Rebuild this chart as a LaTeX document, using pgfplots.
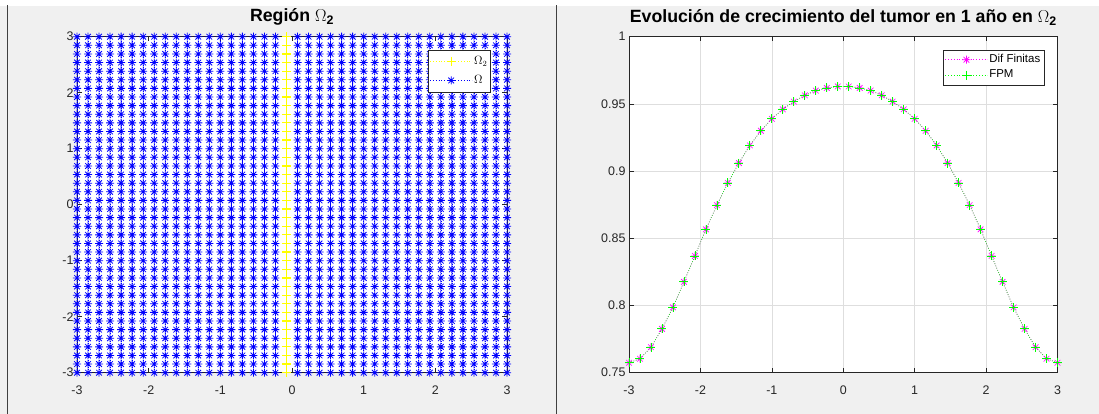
\documentclass[border=0pt]{standalone}
\usepackage{pgfplots}
\pgfplotsset{compat=1.18}
\usepackage{pgfplotstable}
\usepackage{fontspec}
\setmainfont{Liberation Sans}
\definecolor{figbg}{RGB}{240,240,240}
\definecolor{axcol}{RGB}{38,38,38}
\definecolor{gridcol}{RGB}{222,222,222}
\definecolor{mblue}{RGB}{0,0,255}
\definecolor{myellow}{RGB}{255,255,0}
\definecolor{mmag}{RGB}{255,0,255}
\definecolor{mgreen}{RGB}{0,255,0}

\pgfdeclareplotmark{mstar}{%
  \pgfpathmoveto{\pgfqpoint{-\pgfplotmarksize}{0pt}}\pgfpathlineto{\pgfqpoint{\pgfplotmarksize}{0pt}}%
  \pgfpathmoveto{\pgfqpoint{0pt}{-\pgfplotmarksize}}\pgfpathlineto{\pgfqpoint{0pt}{\pgfplotmarksize}}%
  \pgfpathmoveto{\pgfqpoint{-.707\pgfplotmarksize}{-.707\pgfplotmarksize}}\pgfpathlineto{\pgfqpoint{.707\pgfplotmarksize}{.707\pgfplotmarksize}}%
  \pgfpathmoveto{\pgfqpoint{-.707\pgfplotmarksize}{.707\pgfplotmarksize}}\pgfpathlineto{\pgfqpoint{.707\pgfplotmarksize}{-.707\pgfplotmarksize}}%
  \pgfusepathqstroke}

% grid values (linspace(-3,3,40))
\pgfplotstableread{
v
-3
-2.8462
-2.6923
-2.5385
-2.3846
-2.2308
-2.0769
-1.9231
-1.7692
-1.6154
-1.4615
-1.3077
-1.1538
-1
-0.8462
-0.6923
-0.5385
-0.3846
-0.2308
-0.0769
0.0769
0.2308
0.3846
0.5385
0.6923
0.8462
1
1.1538
1.3077
1.4615
1.6154
1.7692
1.9231
2.0769
2.2308
2.3846
2.5385
2.6923
2.8462
3
}\gridtab

% tumour growth after 1 year on Omega_2
\pgfplotstableread{
x y
-3 0.7574
-2.8462 0.7604
-2.6923 0.7690
-2.5385 0.7826
-2.3846 0.7986
-2.2308 0.8176
-2.0769 0.8369
-1.9231 0.8567
-1.7692 0.8747
-1.6154 0.8912
-1.4615 0.9060
-1.3077 0.9191
-1.1538 0.9300
-1 0.9389
-0.8462 0.9460
-0.6923 0.9517
-0.5385 0.9564
-0.3846 0.9599
-0.2308 0.9619
-0.0769 0.9630
0.0769 0.9630
0.2308 0.9619
0.3846 0.9599
0.5385 0.9564
0.6923 0.9517
0.8462 0.9460
1 0.9389
1.1538 0.9300
1.3077 0.9191
1.4615 0.9060
1.6154 0.8912
1.7692 0.8747
1.9231 0.8567
2.0769 0.8369
2.2308 0.8176
2.3846 0.7986
2.5385 0.7826
2.6923 0.7690
2.8462 0.7604
3 0.7574
}\tumor

\pgfplotsset{
  mstyle/.style={
    scale only axis,
    axis background/.style={fill=white},
    xmin=-3, xmax=3,
    xtick={-3,-2,-1,0,1,2,3},
    tick align=inside,
    major tick length=4.5bp,
    tick style={axcol, line width=0.5bp},
    axis line style={axcol, line width=0.6bp},
    tick label style={font=\fontsize{12.5}{14}\selectfont, text=axcol},
    /pgf/number format/assume math mode=true,
    xticklabel style={yshift=-10bp},
    title style={font=\bfseries\fontsize{17.8}{20}\selectfont, text=black, yshift=2bp},
    legend style={font=\fontsize{11.5}{13}\selectfont, draw=axcol, line width=0.5bp,
      fill=white, inner xsep=2bp, inner ysep=2bp},
    legend cell align=left,
    legend image code/.code={\draw[mark repeat=2,mark phase=2] plot coordinates {(0bp,0bp)(21bp,0bp)(42bp,0bp)};},
  }
}

\begin{document}
\begin{tikzpicture}
\fill[white] (0,0) rectangle (1099bp,414bp);
\fill[figbg] (0,0) rectangle (1099bp,408bp);
\draw[line width=0.8bp, color=black!75] (7bp,0) -- (7bp,409bp);
\draw[line width=0.8bp, color=black!75] (556.7bp,0) -- (556.7bp,409bp);

\begin{axis}[mstyle,
  at={(77bp,41.3bp)}, anchor=south west,
  width=430bp, height=336bp,
  ymin=-3, ymax=3,
  ytick={-3,-2,-1,0,1,2,3},
  title={Región $\Omega_{\mathbf{2}}$},
  legend style={at={(1,1)}, anchor=north east, xshift=-16bp, yshift=-13bp,
    nodes={inner sep=1.5bp, text height=11bp, text depth=5bp}},
]
\addlegendimage{draw=myellow, dash pattern=on 1bp off 1.8bp, line width=0.8bp, mark=+, mark size=4.5bp, mark options={solid, draw=myellow, line width=1.2bp}}
\addlegendentry{$\Omega_2$}
\addlegendimage{draw=mblue, dash pattern=on 1bp off 1.8bp, line width=0.8bp, mark=mstar, mark size=4bp, mark options={solid, draw=mblue, line width=0.8bp}}
\addlegendentry{$\Omega$}
\pgfplotsinvokeforeach{-3,-2.8462,-2.6923,-2.5385,-2.3846,-2.2308,-2.0769,-1.9231,-1.7692,-1.6154,-1.4615,-1.3077,-1.1538,-1,-0.8462,-0.6923,-0.5385,-0.3846,-0.2308,0.0769,0.2308,0.3846,0.5385,0.6923,0.8462,1,1.1538,1.3077,1.4615,1.6154,1.7692,1.9231,2.0769,2.2308,2.3846,2.5385,2.6923,2.8462,3}{
  \addplot[mblue, dash pattern=on 0.8bp off 1.6bp, line width=0.6bp, mark=mstar, mark size=4bp, mark options={solid, line width=0.8bp}, forget plot] table[x expr=#1, y=v] {\gridtab};
}
\addplot[myellow, dash pattern=on 0.8bp off 1.6bp, line width=0.6bp, mark=+, mark size=4.5bp, mark options={solid, line width=1.2bp}, forget plot] table[x expr=-0.0769, y=v] {\gridtab};
\end{axis}

\begin{axis}[mstyle,
  at={(629bp,41.3bp)}, anchor=south west,
  width=428.5bp, height=336bp,
  ymin=0.75, ymax=1,
  ytick={0.75,0.8,0.85,0.9,0.95,1},
  yticklabel style={/pgf/number format/.cd, fixed, precision=2},
  grid=major,
  major grid style={gridcol, line width=0.5bp},
  title={Evolución de crecimiento del tumor en 1 año en $\Omega_{\mathbf{2}}$},
  legend style={at={(1,1)}, anchor=north east, xshift=-13.5bp, yshift=-13bp,
    nodes={inner sep=1.5bp, text height=9bp, text depth=3.5bp}},
]
\addlegendimage{draw=mmag, dash pattern=on 1bp off 1.8bp, line width=0.8bp, mark=mstar, mark size=4bp, mark options={solid, draw=mmag, line width=0.7bp}}
\addlegendentry{Dif Finitas}
\addlegendimage{draw=mgreen, dash pattern=on 1bp off 1.8bp, line width=0.8bp, mark=+, mark size=4.5bp, mark options={solid, draw=mgreen, line width=0.9bp}}
\addlegendentry{FPM}
\addplot[mmag, dash pattern=on 0.8bp off 1.6bp, line width=0.6bp, mark=mstar, mark size=4bp, mark options={solid, line width=0.6bp}, forget plot] table[x=x, y=y] {\tumor};
\addplot[mgreen, dash pattern=on 0.8bp off 1.6bp, line width=0.6bp, mark=+, mark size=4.5bp, mark options={solid, line width=0.8bp}, forget plot] table[x=x, y=y] {\tumor};
\end{axis}

\pgfresetboundingbox
\path[use as bounding box] (0,0) rectangle (1099bp,414bp);
\end{tikzpicture}
\end{document}
